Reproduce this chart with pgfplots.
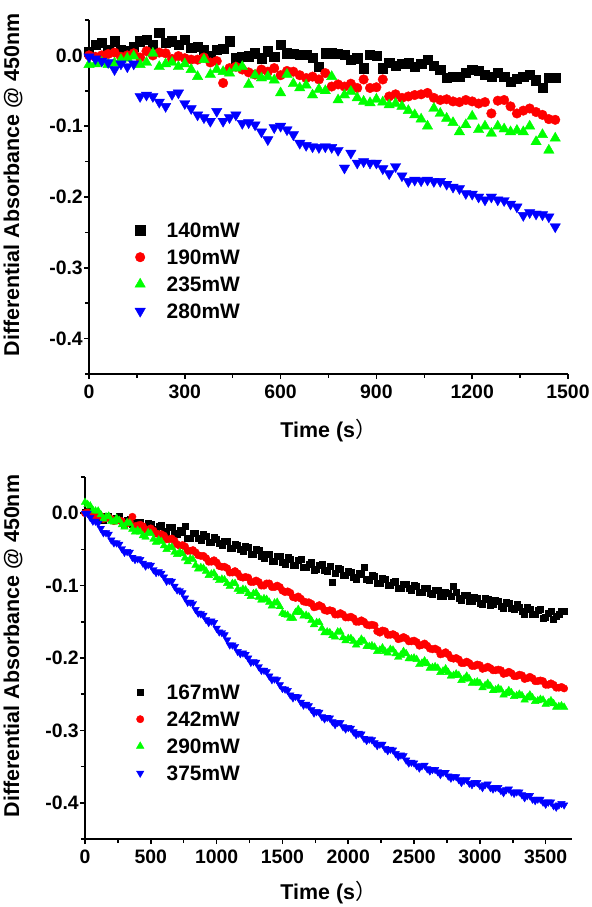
\documentclass[border=0pt]{standalone}
\usepackage{pgfplots}
\pgfplotsset{compat=1.18}
\usepackage{pgfplotstable}
\usepackage{fontspec}
\setmainfont{Liberation Sans}
\newfontfamily\cjk{Noto Sans CJK SC}

\definecolor{cblk}{RGB}{0,0,0}
\definecolor{cred}{RGB}{255,0,0}
\definecolor{cgrn}{RGB}{0,255,0}
\definecolor{cblu}{RGB}{0,0,255}

% top panel: t, 140mW, 190mW, 235mW, 280mW
\pgfplotstableread{
t k r g b
0 0.005 0.000 -0.013 -0.002
20 0.015 -0.002 -0.012 -0.005
40 0.018 0.000 -0.010 -0.008
60 0.008 0.002 -0.013 -0.010
80 0.020 0.004 -0.011 -0.020
100 0.008 -0.002 -0.006 -0.012
120 0.006 0.000 -0.004 -0.016
140 0.012 0.003 -0.001 -0.012
160 0.020 -0.003 -0.013 -0.058
180 0.022 0.006 -0.010 -0.056
200 0.015 0.000 0.003 -0.058
220 0.032 0.004 -0.016 -0.066
240 0.018 0.003 -0.012 -0.072
260 0.020 -0.005 -0.010 -0.055
280 0.015 -0.001 -0.016 -0.053
300 0.022 -0.004 -0.012 -0.068
320 0.011 -0.006 -0.020 -0.075
340 0.012 -0.006 -0.030 -0.084
360 0.008 -0.003 -0.006 -0.088
380 0.000 -0.010 -0.027 -0.093
400 0.008 -0.008 -0.020 -0.079
420 0.010 -0.039 -0.023 -0.093
440 0.020 -0.018 -0.025 -0.088
460 -0.004 -0.016 -0.018 -0.084
480 -0.002 -0.020 -0.016 -0.096
500 -0.001 -0.024 -0.041 -0.095
520 0.003 -0.027 -0.028 -0.098
540 -0.004 -0.020 -0.032 -0.108
560 0.006 -0.023 -0.030 -0.119
580 -0.002 -0.018 -0.035 -0.102
600 0.015 -0.028 -0.053 -0.100
620 0.003 -0.022 -0.027 -0.105
640 0.002 -0.023 -0.040 -0.112
660 0.001 -0.028 -0.046 -0.124
680 0.001 -0.032 -0.042 -0.127
700 -0.003 -0.030 -0.056 -0.129
720 -0.016 -0.034 -0.048 -0.130
740 0.003 -0.025 -0.050 -0.129
760 0.003 -0.044 -0.030 -0.130
780 0.002 -0.041 -0.063 -0.134
800 0.001 -0.044 -0.056 -0.159
820 -0.006 -0.040 -0.051 -0.138
840 -0.004 -0.046 -0.060 -0.152
860 -0.018 -0.034 -0.065 -0.150
880 0.001 -0.046 -0.067 -0.152
900 0.000 -0.045 -0.062 -0.152
920 -0.018 -0.034 -0.066 -0.160
940 -0.010 -0.058 -0.070 -0.167
960 -0.015 -0.055 -0.068 -0.157
980 -0.012 -0.060 -0.072 -0.170
1000 -0.011 -0.058 -0.078 -0.178
1020 -0.016 -0.056 -0.084 -0.176
1040 -0.012 -0.055 -0.090 -0.177
1060 -0.006 -0.053 -0.100 -0.176
1080 -0.015 -0.060 -0.075 -0.178
1100 -0.020 -0.063 -0.082 -0.178
1120 -0.032 -0.062 -0.089 -0.182
1140 -0.030 -0.065 -0.095 -0.186
1160 -0.030 -0.066 -0.108 -0.188
1180 -0.025 -0.063 -0.098 -0.195
1200 -0.020 -0.065 -0.086 -0.196
1220 -0.022 -0.068 -0.105 -0.200
1240 -0.027 -0.066 -0.100 -0.204
1260 -0.030 -0.082 -0.110 -0.200
1280 -0.025 -0.064 -0.100 -0.204
1300 -0.030 -0.063 -0.104 -0.205
1320 -0.037 -0.072 -0.108 -0.210
1340 -0.033 -0.082 -0.106 -0.214
1360 -0.030 -0.078 -0.108 -0.226
1380 -0.027 -0.075 -0.100 -0.222
1400 -0.035 -0.080 -0.122 -0.224
1420 -0.046 -0.084 -0.112 -0.225
1440 -0.032 -0.090 -0.134 -0.228
1460 -0.032 -0.091 -0.117 -0.242
}\toptable

% bottom panel: t, 167mW, 242mW, 290mW, 375mW (readings on a 40 s grid)
\pgfplotstableread{
t k r g b
0 0.002 0.000 0.015 0.000
40 0.000 -0.002 0.010 -0.006
80 -0.002 -0.004 0.003 -0.011
120 -0.005 -0.004 -0.002 -0.021
160 -0.004 -0.007 -0.005 -0.027
200 -0.008 -0.008 -0.011 -0.037
240 -0.007 -0.010 -0.007 -0.041
280 -0.012 -0.011 -0.016 -0.049
320 -0.010 -0.014 -0.013 -0.053
360 -0.015 -0.005 -0.022 -0.061
400 -0.012 -0.017 -0.024 -0.063
440 -0.018 -0.018 -0.031 -0.069
480 -0.014 -0.023 -0.027 -0.071
520 -0.022 -0.024 -0.036 -0.078
560 -0.018 -0.029 -0.037 -0.081
600 -0.025 -0.031 -0.045 -0.088
640 -0.020 -0.036 -0.047 -0.093
680 -0.028 -0.038 -0.054 -0.101
720 -0.024 -0.045 -0.054 -0.107
760 -0.018 -0.046 -0.062 -0.117
800 -0.034 -0.052 -0.063 -0.123
840 -0.028 -0.054 -0.072 -0.133
880 -0.037 -0.059 -0.075 -0.139
920 -0.032 -0.062 -0.080 -0.147
960 -0.040 -0.067 -0.084 -0.149
1000 -0.036 -0.068 -0.089 -0.159
1040 -0.044 -0.074 -0.091 -0.165
1080 -0.039 -0.076 -0.097 -0.175
1120 -0.048 -0.082 -0.097 -0.182
1160 -0.044 -0.083 -0.105 -0.191
1200 -0.052 -0.089 -0.105 -0.193
1240 -0.047 -0.089 -0.111 -0.200
1280 -0.056 -0.095 -0.111 -0.205
1320 -0.051 -0.095 -0.116 -0.212
1360 -0.062 -0.100 -0.118 -0.217
1400 -0.056 -0.097 -0.123 -0.225
1440 -0.066 -0.102 -0.124 -0.229
1480 -0.060 -0.102 -0.129 -0.237
1520 -0.070 -0.109 -0.140 -0.243
1560 -0.063 -0.110 -0.145 -0.251
1600 -0.072 -0.117 -0.137 -0.253
1640 -0.064 -0.118 -0.137 -0.261
1680 -0.075 -0.123 -0.141 -0.264
1720 -0.068 -0.125 -0.148 -0.271
1760 -0.078 -0.129 -0.151 -0.274
1800 -0.071 -0.129 -0.159 -0.281
1840 -0.080 -0.135 -0.164 -0.282
1880 -0.095 -0.135 -0.169 -0.288
1920 -0.076 -0.140 -0.164 -0.289
1960 -0.085 -0.140 -0.172 -0.295
2000 -0.080 -0.144 -0.173 -0.296
2040 -0.088 -0.145 -0.177 -0.302
2080 -0.083 -0.150 -0.179 -0.304
2120 -0.074 -0.150 -0.177 -0.311
2160 -0.092 -0.155 -0.184 -0.312
2200 -0.087 -0.155 -0.185 -0.317
2240 -0.096 -0.165 -0.189 -0.319
2280 -0.091 -0.163 -0.191 -0.325
2320 -0.099 -0.168 -0.188 -0.326
2360 -0.094 -0.169 -0.194 -0.332
2400 -0.103 -0.173 -0.196 -0.334
2440 -0.098 -0.173 -0.194 -0.341
2480 -0.107 -0.177 -0.201 -0.344
2520 -0.101 -0.178 -0.202 -0.349
2560 -0.109 -0.182 -0.207 -0.349
2600 -0.104 -0.183 -0.208 -0.353
2640 -0.112 -0.188 -0.213 -0.354
2680 -0.107 -0.189 -0.214 -0.357
2720 -0.115 -0.194 -0.218 -0.358
2760 -0.110 -0.195 -0.220 -0.363
2800 -0.101 -0.201 -0.224 -0.364
2840 -0.118 -0.202 -0.224 -0.368
2880 -0.113 -0.207 -0.229 -0.369
2920 -0.121 -0.207 -0.229 -0.373
2960 -0.116 -0.211 -0.234 -0.372
3000 -0.124 -0.210 -0.235 -0.376
3040 -0.118 -0.214 -0.238 -0.375
3080 -0.127 -0.214 -0.239 -0.379
3120 -0.120 -0.217 -0.244 -0.379
3160 -0.129 -0.217 -0.244 -0.383
3200 -0.123 -0.221 -0.249 -0.382
3240 -0.131 -0.221 -0.248 -0.385
3280 -0.126 -0.225 -0.252 -0.385
3320 -0.135 -0.224 -0.252 -0.389
3360 -0.130 -0.228 -0.255 -0.390
3400 -0.139 -0.228 -0.255 -0.395
3440 -0.134 -0.232 -0.259 -0.395
3480 -0.145 -0.232 -0.258 -0.399
3520 -0.138 -0.237 -0.262 -0.399
3560 -0.147 -0.237 -0.263 -0.404
3600 -0.140 -0.241 -0.267 -0.403
3640 -0.136 -0.242 -0.268 -0.403
}\bottable

% bottom panel: further readings between the 40 s grid points
\pgfplotstableread{
t k r g b
20 0.003 0.001 0.012 0.000
60 -0.005 -0.005 0.004 -0.011
100 -0.002 -0.003 0.003 -0.014
140 -0.010 -0.008 -0.008 -0.027
180 -0.004 -0.006 -0.004 -0.029
220 -0.010 -0.011 -0.012 -0.041
260 -0.004 -0.010 -0.010 -0.043
300 -0.015 -0.015 -0.019 -0.054
340 -0.008 -0.012 -0.014 -0.054
380 -0.017 -0.018 -0.026 -0.064
420 -0.013 -0.016 -0.026 -0.064
460 -0.022 -0.023 -0.033 -0.073
500 -0.015 -0.021 -0.028 -0.072
540 -0.022 -0.028 -0.040 -0.082
580 -0.016 -0.029 -0.039 -0.083
620 -0.027 -0.036 -0.050 -0.094
660 -0.020 -0.035 -0.047 -0.094
700 -0.029 -0.043 -0.057 -0.106
740 -0.026 -0.044 -0.056 -0.110
780 -0.034 -0.052 -0.067 -0.123
820 -0.028 -0.051 -0.064 -0.125
860 -0.034 -0.058 -0.077 -0.138
900 -0.029 -0.059 -0.076 -0.141
940 -0.040 -0.067 -0.086 -0.151
980 -0.033 -0.065 -0.083 -0.151
1020 -0.042 -0.073 -0.093 -0.164
1060 -0.039 -0.074 -0.092 -0.168
1100 -0.048 -0.082 -0.101 -0.182
1140 -0.043 -0.080 -0.097 -0.184
1180 -0.050 -0.088 -0.108 -0.194
1220 -0.045 -0.088 -0.106 -0.195
1260 -0.056 -0.095 -0.115 -0.206
1300 -0.050 -0.093 -0.110 -0.206
1340 -0.059 -0.100 -0.120 -0.217
1380 -0.057 -0.097 -0.119 -0.219
1420 -0.066 -0.102 -0.128 -0.230
1460 -0.060 -0.100 -0.123 -0.230
1500 -0.067 -0.107 -0.138 -0.242
1540 -0.061 -0.108 -0.141 -0.245
1580 -0.072 -0.116 -0.145 -0.255
1620 -0.065 -0.115 -0.133 -0.254
1660 -0.074 -0.122 -0.142 -0.265
1700 -0.070 -0.123 -0.143 -0.266
1740 -0.079 -0.130 -0.154 -0.276
1780 -0.072 -0.127 -0.151 -0.275
1820 -0.079 -0.134 -0.165 -0.284
1860 -0.073 -0.134 -0.165 -0.283
1900 -0.083 -0.140 -0.171 -0.292
1940 -0.077 -0.138 -0.164 -0.289
1980 -0.085 -0.144 -0.176 -0.298
2020 -0.082 -0.143 -0.173 -0.297
2060 -0.091 -0.150 -0.182 -0.306
2100 -0.084 -0.148 -0.174 -0.305
2140 -0.091 -0.154 -0.184 -0.314
2180 -0.086 -0.154 -0.183 -0.313
2220 -0.096 -0.163 -0.191 -0.321
2260 -0.090 -0.162 -0.186 -0.319
2300 -0.099 -0.168 -0.193 -0.328
2340 -0.095 -0.167 -0.189 -0.327
2380 -0.104 -0.174 -0.199 -0.336
2420 -0.098 -0.171 -0.191 -0.335
2460 -0.104 -0.177 -0.201 -0.345
2500 -0.099 -0.176 -0.200 -0.345
2540 -0.109 -0.183 -0.209 -0.352
2580 -0.103 -0.180 -0.204 -0.348
2620 -0.111 -0.187 -0.214 -0.356
2660 -0.107 -0.187 -0.212 -0.354
2700 -0.115 -0.195 -0.220 -0.361
2740 -0.109 -0.192 -0.215 -0.358
2780 -0.115 -0.200 -0.225 -0.366
2820 -0.109 -0.200 -0.222 -0.364
2860 -0.120 -0.207 -0.231 -0.372
2900 -0.113 -0.205 -0.225 -0.368
2940 -0.121 -0.211 -0.235 -0.375
2980 -0.117 -0.209 -0.233 -0.372
3020 -0.126 -0.215 -0.241 -0.379
3060 -0.119 -0.212 -0.235 -0.374
3100 -0.126 -0.217 -0.245 -0.381
3140 -0.121 -0.216 -0.242 -0.379
3180 -0.131 -0.222 -0.251 -0.386
3220 -0.125 -0.219 -0.245 -0.381
3260 -0.133 -0.225 -0.253 -0.387
3300 -0.130 -0.223 -0.250 -0.385
3340 -0.139 -0.229 -0.258 -0.393
3380 -0.132 -0.226 -0.251 -0.390
3420 -0.139 -0.232 -0.260 -0.397
3460 -0.133 -0.231 -0.257 -0.395
3500 -0.144 -0.237 -0.264 -0.402
3540 -0.136 -0.235 -0.259 -0.399
3580 -0.142 -0.241 -0.268 -0.406
3620 -0.136 -0.240 -0.266 -0.401
}\botmid

\pgfplotsset{
  panel/.style={
    scale only axis,
    anchor=south west,
    axis lines=left,
    axis line style={-, line width=2bp, black},
    tick align=outside,
    major tick length=5bp,
    minor tick length=4bp,
    every tick/.style={line width=1.5bp, black},
    ymin=-0.45, ymax=0.05,
    ytick={-0.4,-0.3,-0.2,-0.1,0},
    yticklabels={-0.4,-0.3,-0.2,-0.1,0.0},
    minor ytick={-0.45,-0.35,-0.25,-0.15,-0.05,0.05},
    tick label style={font=\fontsize{19.5}{20}\selectfont\bfseries},
    yticklabel style={inner xsep=1bp},
    xticklabel style={yshift=-2bp},
    label style={font=\fontsize{21.5}{22}\selectfont\bfseries},
    ylabel={Differential Absorbance @ 450nm},
    xlabel={Time (s{\cjk\mdseries ）}},
    legend cell align=left,
    legend style={draw=none, fill=none, anchor=north west, inner sep=0pt,
      row sep=0pt, font=\fontsize{21}{21}\selectfont\bfseries,
      nodes={inner xsep=4bp, inner ysep=6bp, text height=15bp, text depth=0bp}},
    legend image code/.code={
      \path[draw=none, fill=none] (0bp,-5bp) rectangle (31bp,5bp);
      \draw[mark repeat=2,mark phase=2] plot coordinates {(0bp,0bp) (8.5bp,0bp) (17bp,0bp)};
    },
  },
}

\begin{document}
\begin{tikzpicture}
\useasboundingbox (0bp,0bp) rectangle (592bp,907bp);

% ---------- top panel ----------
\begin{axis}[panel,
  at={(89bp,533bp)}, width=479bp, height=354bp,
  xmin=0, xmax=1500,
  xtick={0,300,600,900,1200,1500},
  xticklabels={0,300,600,900,1200,1500},
  minor xtick={150,450,750,1050,1350},
  ylabel style={at={([xshift=-76bp]axis description cs:0,0.534)}, anchor=center},
  xlabel style={at={([yshift=-57bp]axis description cs:0.5,0)}, anchor=center},
  legend style={at={(axis description cs:0.0887,0.4449)}},
]
\addplot[only marks, mark=square*, color=cblk, mark size=4.6bp] table[x=t,y=k] {\toptable};
\addlegendentry{140mW}
\addplot[only marks, mark=*, color=cred, mark size=4.8bp] table[x=t,y=r] {\toptable};
\addlegendentry{190mW}
\addplot[only marks, mark=triangle*, color=cgrn, mark size=6bp] table[x=t,y=g] {\toptable};
\addlegendentry{235mW}
\addplot[only marks, mark=triangle*, color=cblu, mark size=6bp, mark options={rotate=180}] table[x=t,y=b] {\toptable};
\addlegendentry{280mW}
\end{axis}

% ---------- bottom panel ----------
\begin{axis}[panel,
  at={(85bp,68bp)}, width=487bp, height=362bp,
  xmin=0, xmax=3700,
  xtick={0,500,1000,1500,2000,2500,3000,3500},
  xticklabels={0,500,1000,1500,2000,2500,3000,3500},
  minor xtick={250,750,1250,1750,2250,2750,3250},
  ylabel style={at={([xshift=-72bp]axis description cs:0,0.533)}, anchor=center},
  xlabel style={at={([yshift=-54bp]axis description cs:0.5,0)}, anchor=center},
  legend style={at={(axis description cs:0.0955,0.4434)}},
]
\addplot[only marks, mark=square*, color=cblk, mark size=3bp] table[x=t,y=k] {\bottable};
\addlegendentry{167mW}
\addplot[only marks, mark=square*, color=cblk, mark size=3bp, forget plot] table[x=t,y=k] {\botmid};
\addplot[only marks, mark=*, color=cred, mark size=3.7bp] table[x=t,y=r] {\bottable};
\addlegendentry{242mW}
\addplot[only marks, mark=*, color=cred, mark size=3.7bp, forget plot] table[x=t,y=r] {\botmid};
\addplot[only marks, mark=triangle*, color=cgrn, mark size=4.4bp] table[x=t,y=g] {\bottable};
\addlegendentry{290mW}
\addplot[only marks, mark=triangle*, color=cgrn, mark size=4.4bp, forget plot] table[x=t,y=g] {\botmid};
\addplot[only marks, mark=triangle*, color=cblu, mark size=4.3bp, mark options={rotate=180}] table[x=t,y=b] {\bottable};
\addlegendentry{375mW}
\addplot[only marks, mark=triangle*, color=cblu, mark size=4.3bp, mark options={rotate=180}, forget plot] table[x=t,y=b] {\botmid};
\end{axis}
\end{tikzpicture}
\end{document}
